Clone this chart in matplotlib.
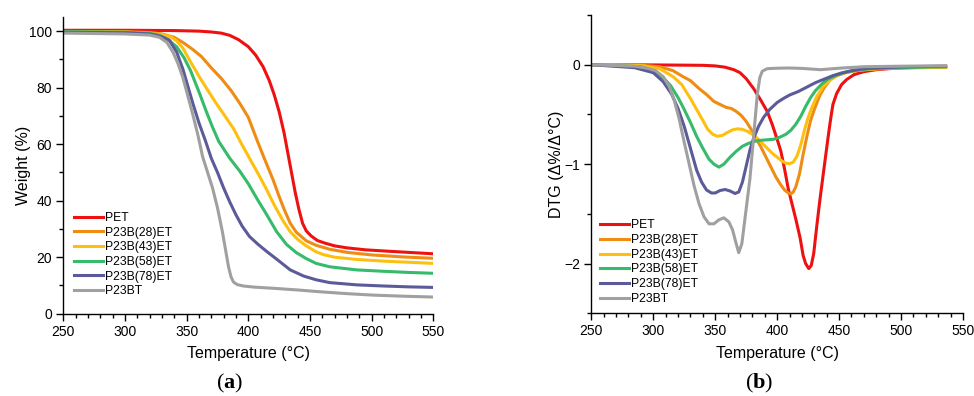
import numpy as np
import matplotlib
matplotlib.use("Agg")
import matplotlib.pyplot as plt
from matplotlib.ticker import MultipleLocator

plt.rcParams['font.family'] = ['Liberation Sans', 'DejaVu Sans']
plt.rcParams['mathtext.fontset'] = 'custom'
plt.rcParams['mathtext.rm'] = 'Liberation Serif'
plt.rcParams['mathtext.bf'] = 'Liberation Serif:bold'

names = ['PET', 'P23B(28)ET', 'P23B(43)ET', 'P23B(58)ET', 'P23B(78)ET', 'P23BT']
colors = ['#ee1111', '#ef8c14', '#fec00f', '#35bb6a', '#5b5b99', '#a0a0a0']

# ---- TGA (weight %) ----
tga_T_pet = [250, 300, 340, 360, 370, 378, 385, 392, 400, 406, 412, 417, 421, 425, 429, 432, 435, 438,
             441, 444, 447, 451, 456, 462, 470, 480, 495, 510, 530, 550]
tga_W_pet = [100.3, 100.3, 100.2, 100.0, 99.7, 99.3, 98.5, 97.0, 94.5, 91.5, 87.4, 82.5, 77.5, 71.5, 64.0,
             57.0, 50.0, 43.0, 37.0, 32.0, 29.3, 27.5, 25.9, 25.0, 24.0, 23.3, 22.6, 22.2, 21.7, 21.2]

tga_T_28 = [250, 300, 320, 330, 340, 347, 355, 362, 370, 378, 386, 393, 400, 407, 413.5, 420, 425, 429,
            434, 439, 447, 455, 466, 480, 500, 525, 550]
tga_W_28 = [99.9, 99.8, 99.5, 99.0, 97.8, 96.0, 93.5, 91.0, 87.0, 83.3, 79.0, 74.5, 69.5, 61.5, 54.4,
            47.5, 41.5, 37.0, 32.0, 28.8, 25.8, 24.2, 22.8, 21.7, 20.8, 20.1, 19.6]

tga_T_43 = [250, 300, 320, 330, 337, 342, 347, 354, 361, 368, 374, 381, 388, 394, 401, 408, 415, 421,
            428, 434, 440, 447, 455, 461, 470, 488, 510, 530, 550]
tga_W_43 = [99.8, 99.7, 99.2, 98.8, 98.0, 96.5, 94.0, 88.5, 83.3, 78.5, 74.4, 70.0, 65.5, 60.5, 55.0,
            49.5, 43.8, 38.5, 33.0, 29.0, 26.3, 24.0, 21.9, 20.9, 20.0, 19.2, 18.6, 18.2, 17.8]

tga_T_58 = [250, 300, 320, 328, 335, 342, 348, 353, 360, 366, 371, 376, 385, 393, 400, 408, 415, 423,
            431, 439, 447, 455, 466, 488, 510, 530, 550]
tga_W_58 = [99.8, 99.6, 99.2, 98.5, 97.0, 94.4, 90.5, 86.2, 78.5, 71.5, 66.0, 61.0, 55.0, 50.5, 46.0,
            40.0, 35.0, 29.0, 24.5, 21.6, 19.5, 17.8, 16.6, 15.5, 15.0, 14.6, 14.3]

tga_T_78 = [250, 300, 320, 328, 336, 342, 347, 351, 355, 360, 365, 370, 375, 380, 385, 390, 395, 401,
            408, 415, 423, 434, 445, 455, 466, 488, 510, 530, 550]
tga_W_78 = [99.6, 99.4, 99.0, 98.3, 96.8, 92.5, 86.5, 80.5, 74.5, 67.5, 61.5, 55.0, 50.0, 44.5, 39.5,
            35.0, 31.0, 27.3, 24.5, 22.0, 19.3, 15.5, 13.3, 12.0, 11.0, 10.2, 9.8, 9.5, 9.3]

tga_T_bt = [250, 300, 320, 328, 334, 339, 343, 347, 351, 355, 359, 363, 367, 371, 375, 379, 382, 384,
            386, 388, 391, 396, 405, 420, 440, 460, 480, 500, 525, 550]
tga_W_bt = [99.3, 99.0, 98.6, 97.8, 96.0, 92.5, 88.5, 83.5, 77.0, 70.5, 63.5, 55.5, 50.0, 44.5, 37.5,
            29.0, 21.5, 16.5, 13.0, 11.2, 10.3, 9.8, 9.4, 9.0, 8.4, 7.7, 7.1, 6.6, 6.2, 5.9]

# ---- DTG ----
dtg_T_pet = [250, 300, 340, 350, 358, 365, 370, 375, 381, 386, 392, 396, 400, 403, 406, 409, 412, 415,
             418.5, 421, 423, 425.5, 427.5, 429.5, 432, 434.5, 437, 439, 441, 443, 445, 448, 452, 456,
             462, 470, 480, 495, 515, 536]
dtg_D_pet = [0, -0.002, -0.006, -0.012, -0.025, -0.05, -0.08, -0.14, -0.24, -0.34, -0.47, -0.6, -0.75,
             -0.87, -1.05, -1.25, -1.40, -1.55, -1.74, -1.92, -2.0, -2.05, -2.02, -1.9, -1.62, -1.36,
             -1.12, -0.93, -0.74, -0.56, -0.40, -0.29, -0.2, -0.15, -0.1, -0.07, -0.05, -0.035, -0.025,
             -0.02]

dtg_T_28 = [250, 290, 305, 316, 324, 330, 337, 343, 349, 354, 359, 363, 367, 371, 375, 379, 383, 387,
            391, 395, 399, 403, 406, 409, 411, 413, 415, 418, 421, 424, 427, 430, 434, 438, 443, 448,
            455, 464, 475, 490, 510, 536]
dtg_D_28 = [0, -0.005, -0.02, -0.06, -0.12, -0.16, -0.24, -0.30, -0.37, -0.40, -0.43, -0.44, -0.47,
            -0.51, -0.57, -0.65, -0.74, -0.83, -0.93, -1.03, -1.13, -1.21, -1.26, -1.29, -1.30, -1.28,
            -1.23, -1.10, -0.90, -0.72, -0.56, -0.45, -0.32, -0.23, -0.15, -0.11, -0.08, -0.06, -0.045,
            -0.035, -0.03, -0.025]

dtg_T_43 = [250, 290, 305, 316, 323, 330, 335, 340, 344, 348, 352, 356, 360, 364, 368, 372, 376, 380,
            384, 388, 392, 396, 400, 404, 407, 410, 413, 416, 419, 422, 425, 428, 432, 437, 443, 450,
            458, 470, 490, 510, 536]
dtg_D_43 = [0, -0.008, -0.04, -0.12, -0.2, -0.34, -0.45, -0.56, -0.65, -0.70, -0.72, -0.71, -0.68,
            -0.655, -0.645, -0.65, -0.67, -0.70, -0.74, -0.79, -0.84, -0.89, -0.93, -0.97, -0.99,
            -0.995, -0.98, -0.92, -0.81, -0.66, -0.53, -0.43, -0.32, -0.22, -0.15, -0.10, -0.07, -0.05,
            -0.035, -0.03, -0.025]

dtg_T_58 = [250, 290, 300, 308, 314, 320, 325, 330, 335, 340, 345, 349, 353, 357, 362, 367, 372, 377,
            382, 387, 392, 397, 402, 407, 411, 415, 419, 423, 427, 431, 436, 441, 447, 454, 462, 475,
            495, 515, 536]
dtg_D_58 = [0, -0.02, -0.06, -0.13, -0.21, -0.33, -0.45, -0.58, -0.72, -0.84, -0.95, -1.0, -1.03, -1.0,
            -0.93, -0.87, -0.82, -0.79, -0.77, -0.76, -0.755, -0.75, -0.73, -0.70, -0.66, -0.60, -0.52,
            -0.42, -0.33, -0.26, -0.195, -0.145, -0.11, -0.08, -0.06, -0.04, -0.03, -0.025, -0.02]

dtg_T_78 = [250, 285, 300, 308, 315, 320, 325, 330, 335, 339, 343, 347, 350, 354, 358, 362, 366, 369,
            372, 375, 378, 381, 385, 389, 394, 400, 405, 410, 417, 424, 431, 438, 445, 452, 460, 470,
            485, 505, 536]
dtg_D_78 = [0, -0.03, -0.08, -0.17, -0.30, -0.44, -0.62, -0.84, -1.06, -1.18, -1.26, -1.29, -1.29,
            -1.265, -1.255, -1.27, -1.295, -1.28, -1.18, -1.02, -0.86, -0.74, -0.62, -0.53, -0.45,
            -0.38, -0.34, -0.305, -0.27, -0.225, -0.18, -0.145, -0.11, -0.083, -0.06, -0.04, -0.03,
            -0.02, -0.015]

dtg_T_bt = [250, 285, 295, 302, 308, 313, 317, 321, 325, 329, 333, 337, 341, 345, 349, 353, 357, 361,
            364, 366.5, 369, 371.5, 374, 376, 378, 380, 382, 384, 386, 388, 392, 400, 410, 420, 435,
            450, 470, 500, 536]
dtg_D_bt = [0, -0.015, -0.035, -0.06, -0.12, -0.22, -0.36, -0.55, -0.78, -1.0, -1.22, -1.40, -1.53,
            -1.60, -1.60, -1.56, -1.54, -1.58, -1.66, -1.78, -1.89, -1.80, -1.55, -1.35, -1.15, -0.87,
            -0.58, -0.30, -0.13, -0.065, -0.04, -0.035, -0.033, -0.037, -0.05, -0.035, -0.02, -0.015,
            -0.01]

tga = [(tga_T_pet, tga_W_pet), (tga_T_28, tga_W_28), (tga_T_43, tga_W_43),
       (tga_T_58, tga_W_58), (tga_T_78, tga_W_78), (tga_T_bt, tga_W_bt)]
dtg = [(dtg_T_pet, dtg_D_pet), (dtg_T_28, dtg_D_28), (dtg_T_43, dtg_D_43),
       (dtg_T_58, dtg_D_58), (dtg_T_78, dtg_D_78), (dtg_T_bt, dtg_D_bt)]

W, H = 974, 396
fig = plt.figure(figsize=(W / 100, H / 100), dpi=100)
ax1 = fig.add_axes([63.3 / W, 1 - 313.7 / H, 370 / W, 296.7 / H])
ax2 = fig.add_axes([591.3 / W, 1 - 313.3 / H, 371.7 / W, 298.3 / H])


def style_axis(ax):
    for s in ['top', 'right']:
        ax.spines[s].set_visible(False)
    for s in ['left', 'bottom']:
        ax.spines[s].set_linewidth(1.0)
    ax.xaxis.set_major_locator(MultipleLocator(50))
    ax.xaxis.set_minor_locator(MultipleLocator(10))
    ax.tick_params(which='major', direction='out', length=5, width=1, labelsize=10, pad=3)
    ax.tick_params(which='minor', direction='out', length=3, width=1)
    ax.set_xlim(250, 550)
    ax.set_xlabel('Temperature (°C)', fontsize=11.5)
    ax.xaxis.set_label_coords(0.5, -0.11)


# (a) weight loss
for (T, Wt), name, c in zip(tga, names, colors):
    ax1.plot(T, Wt, color=c, lw=2.2, label=name)
style_axis(ax1)
ax1.set_ylim(0, 105)
ax1.yaxis.set_major_locator(MultipleLocator(20))
ax1.yaxis.set_minor_locator(MultipleLocator(10))
ax1.set_ylabel('Weight (%)', fontsize=11.5)
ax1.yaxis.set_label_coords(-0.088, 0.5)
ax1.legend(loc='upper left', bbox_to_anchor=(0.029, 0.343), frameon=False, fontsize=8.7,
           handlelength=2.4, handletextpad=0.2, labelspacing=0.22, borderpad=0, borderaxespad=0)

# (b) DTG
for (T, D), name, c in zip(dtg, names, colors):
    ax2.plot(T, D, color=c, lw=2.2, label=name)
style_axis(ax2)
ax2.set_ylim(-2.5, 0.5)
ax2.yaxis.set_major_locator(MultipleLocator(1))
ax2.yaxis.set_minor_locator(MultipleLocator(0.5))
ax2.set_ylabel('DTG (Δ%/Δ°C)', fontsize=11.5)
ax2.yaxis.set_label_coords(-0.073, 0.5)
ax2.legend(loc='upper left', bbox_to_anchor=(0.0234, 0.3145), frameon=False, fontsize=8.7,
           handlelength=2.4, handletextpad=0.2, labelspacing=0.22, borderpad=0, borderaxespad=0)

fig.text(230 / W, 1 - 383 / H, r'($\mathbf{a}$)', ha='center', va='center', fontsize=16,
         family='Liberation Serif')
fig.text(759 / W, 1 - 383 / H, r'($\mathbf{b}$)', ha='center', va='center', fontsize=16,
         family='Liberation Serif')

fig.savefig('out.png', dpi=100)
